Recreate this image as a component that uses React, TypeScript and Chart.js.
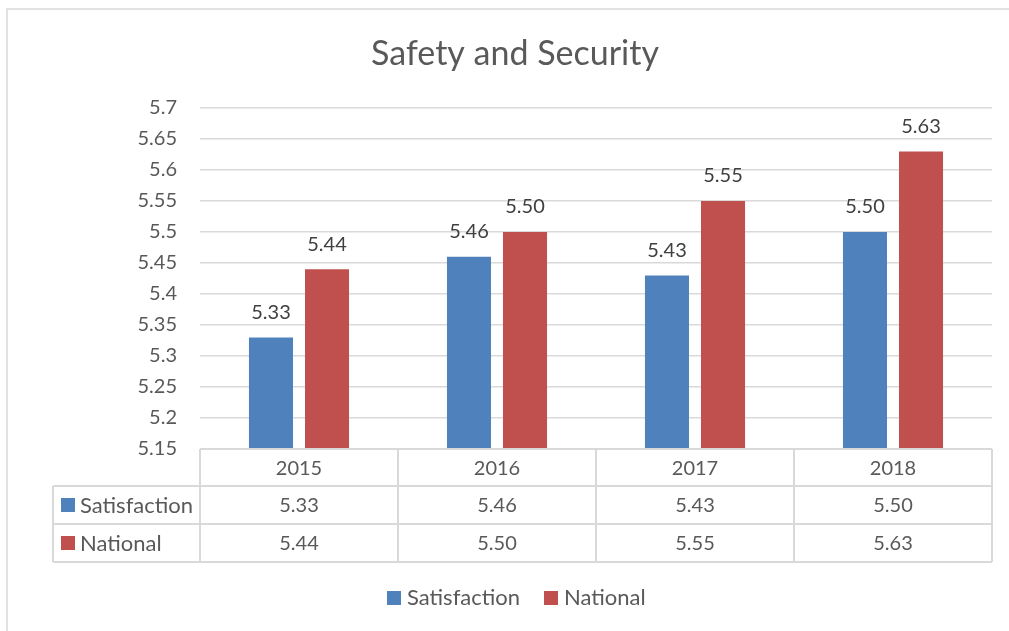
import React, { useEffect, useRef } from "react";
import { Chart, registerables } from "chart.js";

Chart.register(...registerables);

const categories = ["2015", "2016", "2017", "2018"];
const satisfaction = [5.33, 5.46, 5.43, 5.5];
const national = [5.44, 5.5, 5.55, 5.63];
const seriesNames = ["Satisfaction", "National"];
const seriesColors = ["#4f81bd", "#c0504d"];
const yMin = 5.15;
const yMax = 5.7;
const yStep = 0.05;

const FONT = "Lato";
const TEXT = "#595959";
const LINE = "#d9d9d9";

const extras = {
  id: "extras",
  afterDraw(chart: any) {
    const ctx = chart.ctx;
    const area = chart.chartArea;
    const xs = chart.scales.x;
    ctx.save();

    // outer frame
    ctx.strokeStyle = LINE;
    ctx.lineWidth = 1.5;
    ctx.beginPath();
    ctx.moveTo(7, 631);
    ctx.lineTo(7, 9);
    ctx.lineTo(1009, 9);
    ctx.stroke();

    // data labels
    ctx.font = `20px ${FONT}`;
    ctx.fillStyle = "#404040";
    ctx.textAlign = "center";
    ctx.textBaseline = "middle";
    chart.data.datasets.forEach((ds: any, i: number) => {
      const meta = chart.getDatasetMeta(i);
      meta.data.forEach((bar: any, j: number) => {
        ctx.fillText(Number(ds.data[j]).toFixed(2), bar.x, bar.y - 25);
      });
    });

    // data table
    const n = categories.length;
    const colW = (area.right - area.left) / n;
    const rowTops = [area.bottom, area.bottom + 37, area.bottom + 75, area.bottom + 113];
    const tableLeft = 53;
    ctx.strokeStyle = LINE;
    ctx.lineWidth = 2;
    ctx.beginPath();
    ctx.moveTo(area.left, rowTops[0]);
    ctx.lineTo(area.right, rowTops[0]);
    for (let r = 1; r < rowTops.length; r++) {
      ctx.moveTo(tableLeft, rowTops[r]);
      ctx.lineTo(area.right, rowTops[r]);
    }
    ctx.moveTo(tableLeft, rowTops[1]);
    ctx.lineTo(tableLeft, rowTops[3]);
    for (let c = 0; c <= n; c++) {
      const x = area.left + c * colW;
      ctx.moveTo(x, rowTops[0]);
      ctx.lineTo(x, rowTops[3]);
    }
    ctx.stroke();

    ctx.fillStyle = TEXT;
    ctx.font = `20px ${FONT}`;
    ctx.textAlign = "center";
    ctx.textBaseline = "middle";
    categories.forEach((c, j) => {
      const cx = xs.getPixelForValue(j);
      ctx.fillText(c, cx, (rowTops[0] + rowTops[1]) / 2 + 1);
      chart.data.datasets.forEach((ds: any, i: number) => {
        ctx.fillText(Number(ds.data[j]).toFixed(2), cx, (rowTops[i + 1] + rowTops[i + 2]) / 2 + 1);
      });
    });
    ctx.font = `22px ${FONT}`;
    seriesNames.forEach((name, i) => {
      const cy = (rowTops[i + 1] + rowTops[i + 2]) / 2;
      ctx.fillStyle = seriesColors[i];
      ctx.fillRect(61, cy - 7, 14, 14);
      ctx.fillStyle = TEXT;
      ctx.textAlign = "left";
      ctx.fillText(name, 80, cy + 1);
    });

    // bottom legend
    const ly = 598;
    const items = [
      { x: 387, name: seriesNames[0], color: seriesColors[0] },
      { x: 544, name: seriesNames[1], color: seriesColors[1] },
    ];
    items.forEach((it) => {
      ctx.fillStyle = it.color;
      ctx.fillRect(it.x, ly - 7, 14, 14);
      ctx.fillStyle = TEXT;
      ctx.textAlign = "left";
      ctx.fillText(it.name, it.x + 20, ly);
    });

    ctx.restore();
  },
};

export default function App() {
  const ref = useRef<HTMLCanvasElement | null>(null);
  useEffect(() => {
    if (!ref.current) return;
    const chart = new Chart(ref.current, {
      type: "bar",
      data: {
        labels: categories,
        datasets: [
          { label: seriesNames[0], data: satisfaction, backgroundColor: seriesColors[0], categoryPercentage: 0.566, barPercentage: 0.786 },
          { label: seriesNames[1], data: national, backgroundColor: seriesColors[1], categoryPercentage: 0.566, barPercentage: 0.786 },
        ],
      },
      options: {
        animation: false,
        responsive: false,
        layout: { padding: { left: 38, right: 17, top: 0, bottom: 182 } },
        plugins: {
          legend: { display: false },
          tooltip: { enabled: false },
          title: {
            display: true,
            text: "Safety and Security",
            color: TEXT,
            font: { family: FONT, size: 34, weight: "normal" },
            padding: { top: 33.6, bottom: 33.6 },
          },
        },
        scales: {
          x: { display: false },
          y: {
            min: yMin,
            max: yMax,
            afterFit: (s: any) => {
              s.width = 162;
            },
            grid: { color: LINE, lineWidth: 1.5, drawTicks: false },
            border: { display: false },
            ticks: {
              stepSize: yStep,
              padding: 23,
              color: TEXT,
              font: { family: FONT, size: 20 },
              callback: (v: any) => parseFloat(Number(v).toFixed(2)).toString(),
            },
          },
        },
      },
      plugins: [extras],
    });
    return () => chart.destroy();
  }, []);
  return (
    <canvas
      ref={ref}
      width={1009}
      height={631}
      style={{ position: "absolute", left: 0, top: 0 }}
    />
  );
}
